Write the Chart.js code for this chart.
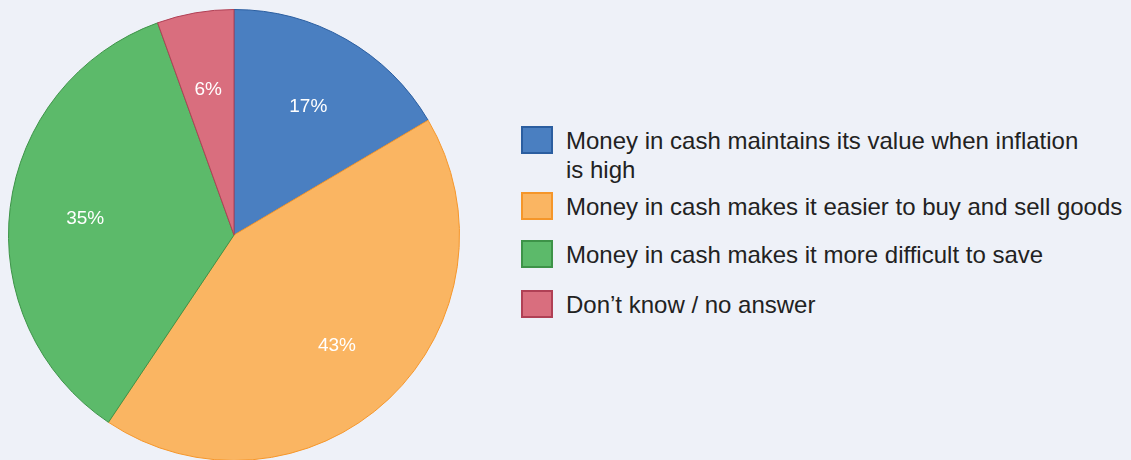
<!DOCTYPE html>
<html>
<head>
<meta charset="utf-8">
<script src="https://cdn.jsdelivr.net/npm/chart.js@4/dist/chart.umd.min.js"></script>
<style>
    html, body { margin: 0; padding: 0; background: #eef1f8; overflow: hidden; width: 1131px; height: 460px; }
    #pie-wrap { position: absolute; left: 0; top: 0; width: 468px; height: 470px; }
    .legend { position: absolute; left: 521px; top: 0; font-family: "Liberation Sans", Arial, sans-serif; font-size: 24px; color: #222; }
    .legend-item { position: absolute; left: 0; white-space: nowrap; }
    .legend-item .box { position: absolute; left: 0; width: 28px; height: 24px; border: 2px solid; box-sizing: content-box; }
    .legend-item .txt { position: absolute; left: 45px; line-height: 29px; }
</style>
</head>
<body>
<div id="pie-wrap"><canvas id="pieChart"></canvas></div>
<div class="legend" id="legend"></div>

<script>
// Dữ liệu (góc của từng lát)
const categories = [
    'Money in cash maintains its value when inflation\nis high',
    'Money in cash makes it easier to buy and sell goods',
    'Money in cash makes it more difficult to save',
    'Don’t know / no answer'
];
const shares = [16.5, 42.9, 35.1, 5.5];
const fillColors = ['#4a7fc1', '#fab562', '#5cba6a', '#d96e7e'];
const edgeColors = ['#2b5ea0', '#f5962a', '#3d9348', '#b04055'];

// Vị trí chú thích (top của ô màu)
const legendTops = [126, 192, 240, 290];

// Plugin vẽ nhãn phần trăm bên trong lát
const sliceLabels = {
    id: 'sliceLabels',
    afterDatasetsDraw(chart) {
        const ctx = chart.ctx;
        const meta = chart.getDatasetMeta(0);
        ctx.save();
        ctx.fillStyle = '#ffffff';
        ctx.font = '19px "Liberation Sans", Arial, sans-serif';
        ctx.textAlign = 'center';
        ctx.textBaseline = 'middle';
        meta.data.forEach((arc, i) => {
            const mid = (arc.startAngle + arc.endAngle) / 2;
            const r = arc.outerRadius * 0.665;
            const x = arc.x + Math.cos(mid) * r;
            const y = arc.y + Math.sin(mid) * r + 2;
            ctx.fillText(Math.round(shares[i]) + '%', x, y);
        });
        ctx.restore();
    }
};

const ctx = document.getElementById('pieChart').getContext('2d');
new Chart(ctx, {
    type: 'pie',
    data: {
        labels: categories,
        datasets: [{
            data: shares,
            backgroundColor: fillColors,
            borderColor: edgeColors,
            borderWidth: 1
        }]
    },
    options: {
        responsive: true,
        maintainAspectRatio: false,
        animation: false,
        layout: { padding: { left: 8, right: 8, top: 9, bottom: 9 } },
        plugins: {
            legend: { display: false },
            tooltip: { enabled: false }
        }
    },
    plugins: [sliceLabels]
});

// Chú thích dạng HTML (cho phép xuống dòng)
const legend = document.getElementById('legend');
categories.forEach((name, i) => {
    const html = `
        <div class="legend-item" style="top: ${legendTops[i]}px;">
            <div class="box" style="background-color: ${fillColors[i]}; border-color: ${edgeColors[i]};"></div>
            <div class="txt" style="top: 0px;">${name.replace('\n', '<br>')}</div>
        </div>
    `;
    legend.insertAdjacentHTML('beforeend', html);
});
</script>
</body>
</html>
